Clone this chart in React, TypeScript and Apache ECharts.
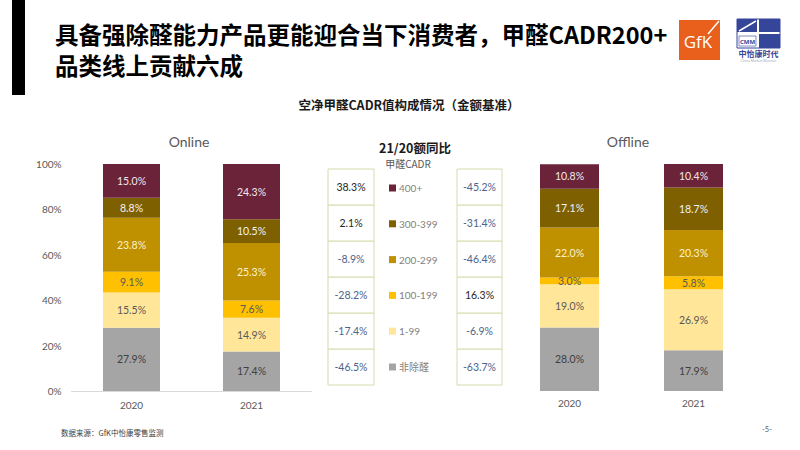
import React, { useEffect, useRef } from 'react';
import * as echarts from 'echarts';

// Categories (bottom -> top of each stacked bar)
const years = ['2020', '2021'];
const segments = ['非除醛', '1-99', '100-199', '200-299', '300-399', '400+'];

// Share of value (%), ordered as segments
const online2020 = [27.9, 15.5, 9.1, 23.8, 8.8, 15.0];
const online2021 = [17.4, 14.9, 7.6, 25.3, 10.5, 24.3];
const offline2020 = [28.0, 19.0, 3.0, 22.0, 17.1, 10.8];
const offline2021 = [17.9, 26.9, 5.8, 20.3, 18.7, 10.4];

// 21/20 value YoY (%), ordered as segments
const onlineYoY = [-46.5, -17.4, -28.2, -8.9, 2.1, 38.3];
const offlineYoY = [-63.7, -6.9, 16.3, -46.4, -31.4, -45.2];

// Axis
const yMin = 0;
const yMax = 100;
const yInterval = 20;

// Texts
const titleLine1 = '具备强除醛能力产品更能迎合当下消费者，甲醛CADR200+';
const titleLine2 = '品类线上贡献六成';
const subTitle = '空净甲醛CADR值构成情况（金额基准）';
const yoyTitle = '21/20额同比';
const legendTitle = '甲醛CADR';
const sourceText = '数据来源：GfK中怡康零售监测';
const pageNo = '-5-';

// Styles
const segColors = ['#A5A5A5', '#FFE699', '#FFC000', '#BF9000', '#7F6000', '#6B2339'];
const segLabelColors = ['#404040', '#595959', '#595959', '#FFF2CC', '#F2F2F2', '#F2E8EA'];
const NUM_FONT = "Lato, 'Noto Sans CJK SC', sans-serif";
const CJK_FONT = "'Noto Sans CJK SC', sans-serif";

const fmt = (v: number) => v.toFixed(1) + '%';

export default function App() {
  const ref = useRef<HTMLDivElement>(null);

  useEffect(() => {
    if (!ref.current) return;
    const chart = echarts.init(ref.current, undefined, { renderer: 'svg' });

    const barSeries: any[] = [];
    const groups = [
      { idx: 0, stack: 'online', a: online2020, b: online2021 },
      { idx: 1, stack: 'offline', a: offline2020, b: offline2021 },
    ];
    groups.forEach((g) => {
      segments.forEach((name, i) => {
        barSeries.push({
          type: 'bar',
          name,
          stack: g.stack,
          xAxisIndex: g.idx,
          yAxisIndex: g.idx,
          barWidth: g.idx === 0 ? 57 : 59,
          data: [g.a[i], g.b[i]],
          itemStyle: { color: segColors[i] },
          label: {
            show: true,
            position: 'inside',
            formatter: (p: any) => fmt(p.value),
            color: segLabelColors[i],
            fontSize: 10.5,
            fontFamily: NUM_FONT,
          },
          emphasis: { disabled: true },
        });
      });
    });

    const renderCell = (params: any, api: any) => {
      const xi = api.value(0);
      const yi = api.value(1);
      const v = api.value(2) as number;
      const c = api.coord([xi, yi]);
      const s = api.size([1, 1]);
      return {
        type: 'group',
        children: [
          {
            type: 'rect',
            shape: { x: c[0] - s[0] / 2, y: c[1] - s[1] / 2, width: s[0], height: s[1] },
            style: { fill: '#FFFFFF', stroke: '#D7DAAE', lineWidth: 1 },
          },
          {
            type: 'text',
            x: c[0],
            y: c[1],
            style: {
              text: fmt(v),
              fill: v >= 0 ? '#262626' : '#4E6389',
              fontSize: 10.5,
              fontFamily: NUM_FONT,
              align: 'center',
              verticalAlign: 'middle',
            },
          },
        ],
      };
    };

    const tableSeries = [
      { name: 'onlineYoY', data: onlineYoY, grid: 2 },
      { name: 'offlineYoY', data: offlineYoY, grid: 3 },
    ].map((t) => ({
      type: 'custom',
      name: t.name,
      xAxisIndex: t.grid,
      yAxisIndex: t.grid,
      renderItem: renderCell,
      data: t.data.map((v, i) => [0, i, v]),
      silent: true,
    }));

    const valueAxis = (show: boolean, idx: number) => ({
      type: 'value',
      gridIndex: idx,
      min: yMin,
      max: yMax,
      interval: yInterval,
      show,
      axisLine: { show: false },
      axisTick: { show: false },
      splitLine: { show: false },
      axisLabel: {
        formatter: '{value}%',
        color: '#595959',
        fontSize: 10,
        fontFamily: NUM_FONT,
        margin: 10,
      },
    });

    const catAxis = (idx: number, lineShow: boolean, margin: number) => ({
      type: 'category',
      gridIndex: idx,
      data: years,
      axisLine: { show: lineShow, lineStyle: { color: '#D9D9D9', width: 1 } },
      axisTick: { show: false },
      axisLabel: { color: '#595959', fontSize: 10, fontFamily: NUM_FONT, margin },
    });

    const tableX = (idx: number) => ({ type: 'category', gridIndex: idx, data: ['v'], show: false });
    const tableY = (idx: number) => ({ type: 'category', gridIndex: idx, data: segments, show: false });

    const option: any = {
      animation: false,
      backgroundColor: '#FFFFFF',
      grid: [
        { left: 71.5, right: 800 - 311.5, top: 164, bottom: 450 - 391, containLabel: false },
        { left: 507.5, right: 800 - 755.5, top: 164, bottom: 450 - 391, containLabel: false },
        { left: 328, width: 46, top: 169, height: 216 },
        { left: 457, width: 45, top: 169, height: 216 },
      ],
      xAxis: [catAxis(0, true, 9), catAxis(1, false, 7), tableX(2), tableX(3)],
      yAxis: [valueAxis(true, 0), valueAxis(false, 1), tableY(2), tableY(3)],
      legend: {
        data: segments.slice().reverse(),
        orient: 'vertical',
        left: 384,
        top: 176,
        icon: 'rect',
        itemWidth: 7,
        itemHeight: 7,
        itemGap: 21.8,
        selectedMode: false,
        textStyle: { color: '#7F7F7F', fontSize: 10, fontFamily: NUM_FONT, lineHeight: 14, padding: [0, 0, 0, -2] },
      },
      graphic: [
        { type: 'rect', shape: { x: 12, y: 0, width: 13, height: 95 }, style: { fill: '#000000' } },
        {
          type: 'text', x: 55, y: 34,
          style: { text: titleLine1, fill: '#000', fontSize: 23.5, lineHeight: 26, fontWeight: 'bold', fontFamily: CJK_FONT, verticalAlign: 'middle' },
        },
        {
          type: 'text', x: 55, y: 65,
          style: { text: titleLine2, fill: '#000', fontSize: 23.5, lineHeight: 26, fontWeight: 'bold', fontFamily: CJK_FONT, verticalAlign: 'middle' },
        },
        // GfK logo
        { type: 'rect', shape: { x: 679, y: 20, width: 41, height: 40 }, style: { fill: '#E8601C' } },
        {
          type: 'text', x: 698, y: 41,
          style: { text: 'GfK', fill: '#FFFFFF', fontSize: 17, fontFamily: "'Open Sans', sans-serif", align: 'center', verticalAlign: 'middle' },
        },
        { type: 'line', shape: { x1: 708, y1: 34, x2: 719, y2: 21 }, style: { stroke: '#FFFFFF', lineWidth: 1.5 } },
        // CMM logo
        { type: 'rect', shape: { x: 737, y: 19, width: 43, height: 29 }, style: { fill: '#FFFFFF', stroke: '#34459A', lineWidth: 1 } },
        { type: 'rect', shape: { x: 737, y: 19, width: 20, height: 13 }, style: { fill: '#34459A' } },
        { type: 'rect', shape: { x: 759, y: 19, width: 21, height: 13 }, style: { fill: '#34459A' } },
        { type: 'rect', shape: { x: 759, y: 34, width: 21, height: 14 }, style: { fill: '#34459A' } },
        { type: 'line', shape: { x1: 739, y1: 31, x2: 756, y2: 21 }, style: { stroke: '#FFFFFF', lineWidth: 1.5 } },
        { type: 'rect', shape: { x: 739, y: 36, width: 17, height: 10 }, style: { fill: 'none', stroke: '#34459A', lineWidth: 0.6 } },
        {
          type: 'text', x: 747.5, y: 41.5,
          style: { text: 'CMM', fill: '#34459A', fontSize: 6, lineHeight: 7, fontWeight: 'bold', fontFamily: "'Open Sans', sans-serif", align: 'center', verticalAlign: 'middle' },
        },
        {
          type: 'text', x: 758.5, y: 53.5,
          style: { text: '中怡康时代', fill: '#34459A', fontSize: 8, lineHeight: 8, fontWeight: 'bold', fontFamily: CJK_FONT, align: 'center', verticalAlign: 'middle' },
        },
        {
          type: 'text', x: 758.5, y: 60.5,
          style: { text: 'China Market Monitor', fill: '#9AA0B8', fontSize: 3.5, lineHeight: 4, fontFamily: "'Open Sans', sans-serif", align: 'center', verticalAlign: 'middle' },
        },
        // Subtitle & panel headers
        {
          type: 'text', x: 409, y: 104,
          style: { text: subTitle, fill: '#1A1A1A', fontSize: 12.5, fontWeight: 'bold', fontFamily: CJK_FONT, align: 'center', verticalAlign: 'middle' },
        },
        {
          type: 'text', x: 189, y: 141,
          style: { text: 'Online', fill: '#595959', fontSize: 14, fontFamily: NUM_FONT, align: 'center', verticalAlign: 'middle' },
        },
        {
          type: 'text', x: 628, y: 141,
          style: { text: 'Offline', fill: '#595959', fontSize: 14, fontFamily: NUM_FONT, align: 'center', verticalAlign: 'middle' },
        },
        {
          type: 'text', x: 415, y: 147,
          style: { text: yoyTitle, fill: '#1A1A1A', fontSize: 12.5, fontWeight: 'bold', fontFamily: CJK_FONT, align: 'center', verticalAlign: 'middle' },
        },
        {
          type: 'text', x: 408, y: 163,
          style: { text: legendTitle, fill: '#595959', fontSize: 10, fontFamily: CJK_FONT, align: 'center', verticalAlign: 'middle' },
        },
        // Footer
        {
          type: 'text', x: 61, y: 432,
          style: { text: sourceText, fill: '#404040', fontSize: 7.5, fontFamily: CJK_FONT, verticalAlign: 'middle' },
        },
        {
          type: 'text', x: 767, y: 429,
          style: { text: pageNo, fill: '#595959', fontSize: 7.5, fontFamily: NUM_FONT, align: 'center', verticalAlign: 'middle' },
        },
      ],
      series: [...barSeries, ...tableSeries],
    };

    chart.setOption(option);
    return () => chart.dispose();
  }, []);

  return <div ref={ref} style={{ position: 'fixed', left: 0, top: 0, width: 800, height: 450 }} />;
}
